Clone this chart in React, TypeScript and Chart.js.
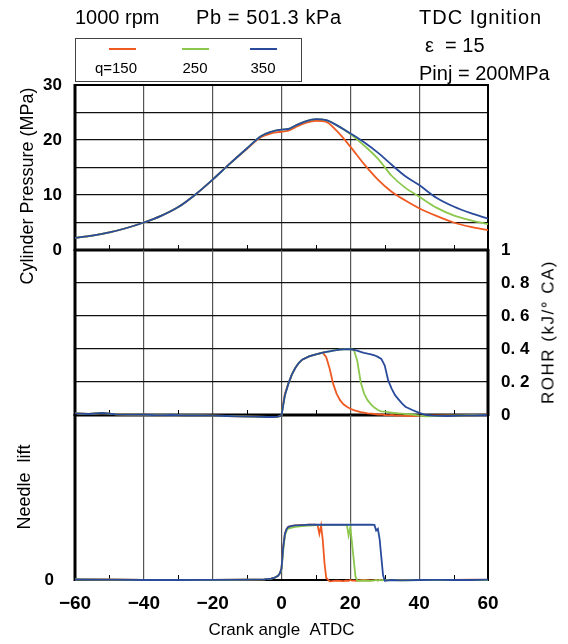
import React, { useEffect, useRef } from 'react';
import { Chart, registerables } from 'chart.js';

Chart.register(...registerables);

const FONT = '"Liberation Sans", Arial, Helvetica, sans-serif';

const SERIES_LABELS = ['q=150', '250', '350'];
const SERIES_COLORS = ['#ef5a23', '#8cc84e', '#2a4b9b'];

// Cylinder pressure (MPa)
const PRESSURE_ANGLES = [-60, -55, -50, -45, -40, -35, -30, -25, -20, -15, -10, -6, -3, 0, 2, 4, 7, 10, 13, 16, 20, 24, 28, 32, 36, 40, 45, 50, 55, 60];
const PRESSURE_150 = [2.2, 2.6, 3.2, 4.0, 5.0, 6.2, 7.8, 10.1, 12.8, 15.7, 18.4, 20.5, 21.2, 21.5, 21.7, 22.3, 23.1, 23.5, 23.3, 21.7, 18.8, 15.6, 12.8, 10.6, 9.0, 7.6, 6.2, 5.0, 4.2, 3.6];
const PRESSURE_250 = [2.2, 2.6, 3.2, 4.0, 5.0, 6.2, 7.8, 10.1, 12.8, 15.7, 18.5, 20.7, 21.5, 21.9, 22.0, 22.6, 23.4, 23.8, 23.6, 22.7, 21.1, 19.0, 16.6, 13.5, 11.3, 9.7, 7.7, 6.3, 5.4, 4.7];
const PRESSURE_350 = [2.2, 2.6, 3.2, 4.0, 5.0, 6.2, 7.8, 10.1, 12.8, 15.7, 18.5, 20.7, 21.5, 21.9, 22.0, 22.6, 23.4, 23.8, 23.6, 22.7, 21.2, 19.6, 17.7, 15.5, 13.4, 11.8, 9.5, 7.9, 6.7, 5.7];

// Rate of heat release (kJ/deg CA)
const ROHR_ANGLES = [-60, -56, -52, -48, -44, -40, -36, -32, -28, -24, -20, -16, -12, -8, -4, -2, -1, 0, 0.5, 1, 2, 3, 4, 5, 6, 8, 10, 12, 13, 14, 15, 16, 17, 18, 19, 20, 21, 22, 23, 24, 25, 26, 27, 28, 29, 30, 31, 32, 33, 34, 35, 36, 38, 40, 42, 44, 48, 52, 56, 60];
const ROHR_150 = [0.010, 0.006, 0.012, 0.004, 0.002, 0.003, -0.002, 0.001, -0.003, -0.002, -0.004, -0.006, -0.008, -0.010, -0.012, -0.012, -0.010, -0.004, 0.07, 0.13, 0.19, 0.245, 0.285, 0.315, 0.335, 0.355, 0.368, 0.378, 0.35, 0.28, 0.19, 0.13, 0.09, 0.065, 0.05, 0.038, 0.03, 0.024, 0.018, 0.014, 0.010, 0.008, 0.006, 0.003, 0.004, 0.0, -0.002, 0.001, -0.003, -0.002, -0.004, -0.005, -0.006, -0.004, -0.006, -0.003, -0.002, -0.004, 0.0, 0.002];
const ROHR_250 = [0.010, 0.006, 0.012, 0.004, 0.002, 0.003, -0.002, 0.001, -0.003, -0.002, -0.004, -0.006, -0.008, -0.010, -0.012, -0.012, -0.010, -0.004, 0.06, 0.12, 0.19, 0.245, 0.285, 0.315, 0.335, 0.355, 0.368, 0.378, 0.382, 0.386, 0.39, 0.393, 0.397, 0.398, 0.40, 0.398, 0.395, 0.33, 0.20, 0.13, 0.09, 0.065, 0.045, 0.03, 0.022, 0.02, 0.018, 0.015, 0.012, 0.010, 0.008, 0.006, 0.003, -0.004, -0.008, -0.006, -0.004, -0.003, -0.001, 0.0];
const ROHR_350 = [0.010, 0.006, 0.012, 0.004, 0.002, 0.003, -0.002, 0.001, -0.003, -0.002, -0.004, -0.006, -0.008, -0.010, -0.012, -0.012, -0.010, -0.004, 0.06, 0.12, 0.19, 0.245, 0.285, 0.315, 0.335, 0.355, 0.368, 0.378, 0.382, 0.386, 0.39, 0.393, 0.397, 0.398, 0.40, 0.398, 0.395, 0.39, 0.383, 0.377, 0.372, 0.368, 0.362, 0.352, 0.34, 0.30, 0.21, 0.16, 0.12, 0.095, 0.07, 0.05, 0.03, 0.013, 0.0, -0.004, -0.006, -0.004, -0.002, 0.0];

// Needle lift (relative)
const NEEDLE_ANGLES = [-60, -50, -40, -30, -20, -10, -5, -3, -2, -1, -0.5, 0, 0.5, 1, 1.5, 2, 3, 4, 6, 8, 10, 10.5, 11, 11.5, 12, 12.5, 13, 14, 16, 18, 19, 19.5, 20, 20.5, 21, 21.5, 22, 24, 26, 27, 27.5, 28, 28.5, 29, 29.5, 30, 32, 35, 40, 45, 50, 55, 60];
const NEEDLE_150 = [0.004, 0.003, 0.001, 0.0, 0.001, 0.002, 0.004, 0.008, 0.014, 0.025, 0.04, 0.07, 0.2, 0.28, 0.31, 0.322, 0.328, 0.331, 0.333, 0.335, 0.335, 0.33, 0.28, 0.33, 0.24, 0.10, 0.012, -0.008, -0.004, -0.007, -0.003, -0.005, 0.0, -0.004, -0.002, -0.005, -0.003, 0.0, -0.002, -0.001, 0.0, -0.002, 0.0, -0.001, 0.0, 0.0, 0.001, 0.0, 0.0, 0.001, 0.0, 0.002, 0.0];
const NEEDLE_250 = [0.003, 0.002, 0.0, 0.0, 0.001, 0.002, 0.004, 0.008, 0.014, 0.025, 0.04, 0.065, 0.18, 0.27, 0.30, 0.312, 0.318, 0.322, 0.326, 0.33, 0.333, 0.334, 0.334, 0.334, 0.334, 0.334, 0.334, 0.334, 0.334, 0.334, 0.334, 0.27, 0.32, 0.22, 0.12, 0.02, -0.005, -0.003, -0.005, -0.002, 0.0, -0.003, 0.0, -0.002, 0.0, -0.001, 0.0, -0.002, 0.0, 0.0, 0.0, 0.001, 0.0];
const NEEDLE_350 = [0.003, 0.002, 0.0, 0.0, 0.001, 0.002, 0.004, 0.008, 0.014, 0.025, 0.04, 0.07, 0.2, 0.28, 0.31, 0.322, 0.328, 0.331, 0.333, 0.335, 0.335, 0.335, 0.335, 0.335, 0.335, 0.335, 0.335, 0.335, 0.335, 0.335, 0.335, 0.335, 0.335, 0.335, 0.335, 0.335, 0.335, 0.335, 0.335, 0.334, 0.30, 0.31, 0.25, 0.14, 0.03, -0.004, 0.0, -0.002, 0.0, 0.001, 0.0, 0.0, 0.002];

const fmtAngle = (v: number) => (v < 0 ? '\u2212' + Math.abs(v) : String(v));

const toPoints = (xs: number[], ys: number[]) => xs.map((x, i) => ({ x, y: ys[i] }));

function makeDatasets(xs: number[], series: number[][], smooth: boolean) {
  return series.map((ys, i) => ({
    label: SERIES_LABELS[i],
    data: toPoints(xs, ys),
    borderColor: SERIES_COLORS[i],
    backgroundColor: SERIES_COLORS[i],
    borderWidth: 1.8,
    pointRadius: 0,
    tension: smooth ? 0.4 : 0,
    cubicInterpolationMode: smooth ? 'monotone' : 'default',
    order: series.length - 1 - i,
    clip: 4,
  }));
}

const framePlugin = {
  id: 'frame',
  beforeDatasetsDraw(chart: any, _args: any, opts: any) {
    const { ctx, chartArea: a, scales } = chart;
    ctx.save();
    ctx.strokeStyle = '#000';
    ctx.lineWidth = 1;
    const xs = scales.x;
    for (const t of xs.ticks) {
      if (Math.round(t.value) % 20 === 0) continue;
      const px = Math.round(xs.getPixelForValue(t.value)) + 0.5;
      ctx.beginPath();
      ctx.moveTo(px, a.bottom);
      ctx.lineTo(px, a.bottom - 5);
      ctx.stroke();
    }
    const side = (w: number, x1: number, y1: number, x2: number, y2: number) => {
      if (!w) return;
      ctx.lineWidth = w;
      ctx.beginPath();
      ctx.moveTo(x1, y1);
      ctx.lineTo(x2, y2);
      ctx.stroke();
    };
    side(opts.top, a.left - 1, a.top, a.right + 1, a.top);
    side(opts.bottom, a.left - 1, a.bottom, a.right + 1, a.bottom);
    side(opts.left, a.left, a.top - 1, a.left, a.bottom + 1);
    side(opts.right, a.right, a.top - 1, a.right, a.bottom + 1);
    ctx.restore();
  },
};

function xScale(showLabels: boolean) {
  return {
    type: 'linear',
    min: -60,
    max: 60,
    ticks: {
      stepSize: 10,
      autoSkip: false,
      maxRotation: 0,
      display: showLabels,
      padding: 12,
      color: '#000',
      font: { family: FONT, size: 19, weight: 'bold' },
      callback: (v: any) => (Math.round(Number(v)) % 20 === 0 ? fmtAngle(Number(v)) : ''),
    },
    grid: {
      drawTicks: false,
      lineWidth: 1.2,
      color: (c: any) => (c.tick && Math.round(c.tick.value) % 20 === 0 ? '#555' : 'rgba(0,0,0,0)'),
    },
    border: { display: false },
    title: showLabels
      ? { display: true, text: 'Crank angle  ATDC', color: '#000', font: { family: FONT, size: 17 }, padding: { top: 0, bottom: 3 } }
      : { display: false },
    afterFit: (s: any) => {
      s.height = showLabels ? 64 : 0;
    },
  };
}

const basePlugins = (frame: any) => ({
  legend: { display: false },
  tooltip: { enabled: false },
  frame,
});

const Text = ({ x, y, size, children, align = 'left', style = {} }: any) => (
  <div
    style={{
      position: 'absolute',
      left: x,
      top: y,
      fontFamily: FONT,
      fontSize: size,
      lineHeight: 1,
      whiteSpace: 'pre',
      color: '#000',
      transform: align === 'center' ? 'translate(-50%,-50%)' : 'translateY(-50%)',
      ...style,
    }}
  >
    {children}
  </div>
);

const VText = ({ x, y, size, children, style = {} }: any) => (
  <div
    style={{
      position: 'absolute',
      left: x,
      top: y,
      fontFamily: FONT,
      fontSize: size,
      lineHeight: 1,
      whiteSpace: 'pre',
      color: '#000',
      transform: 'translate(-50%,-50%) rotate(-90deg)',
      ...style,
    }}
  >
    {children}
  </div>
);

// Panel geometry: pressure 85-250, ROHR 250-415, needle lift 415-580
const PAD = 26;

export default function App() {
  const pRef = useRef<HTMLCanvasElement>(null);
  const rRef = useRef<HTMLCanvasElement>(null);
  const nRef = useRef<HTMLCanvasElement>(null);

  useEffect(() => {
    const tickFont = { family: FONT, size: 17, weight: 'bold' };

    const pChart = new Chart(pRef.current as HTMLCanvasElement, {
      type: 'line',
      data: { datasets: makeDatasets(PRESSURE_ANGLES, [PRESSURE_150, PRESSURE_250, PRESSURE_350], true) as any },
      options: {
        responsive: false,
        animation: false,
        events: [],
        layout: { padding: { top: 85, bottom: PAD, left: 0, right: 80 } },
        scales: {
          x: xScale(false) as any,
          y: {
            type: 'linear',
            min: 0,
            max: 30,
            ticks: {
              stepSize: 5,
              padding: 13,
              color: '#000',
              font: tickFont,
              callback: (v: any) => (Number(v) % 10 === 0 ? String(v) : ''),
            },
            grid: { drawTicks: false, color: '#111', lineWidth: 1.2 },
            border: { display: false },
            afterFit: (s: any) => {
              s.width = 75;
            },
          } as any,
        },
        plugins: basePlugins({ top: 2, bottom: 3, left: 3, right: 2 }) as any,
      },
      plugins: [framePlugin as any],
    });

    const rChart = new Chart(rRef.current as HTMLCanvasElement, {
      type: 'line',
      data: { datasets: makeDatasets(ROHR_ANGLES, [ROHR_150, ROHR_250, ROHR_350], false) as any },
      options: {
        responsive: false,
        animation: false,
        events: [],
        layout: { padding: { top: PAD, bottom: PAD, left: 75, right: 0 } },
        scales: {
          x: xScale(false) as any,
          y: {
            type: 'linear',
            position: 'right',
            min: 0,
            max: 1,
            ticks: {
              stepSize: 0.2,
              padding: 13,
              color: '#000',
              font: tickFont,
              callback: (v: any) => {
                const n = Number(v);
                if (Math.abs(n) < 1e-9) return '0';
                if (Math.abs(n - 1) < 1e-9) return '1';
                return n.toFixed(1).replace('.', '. ');
              },
            },
            grid: { drawTicks: false, color: '#111', lineWidth: 1.2 },
            border: { display: false },
            afterFit: (s: any) => {
              s.width = 80;
            },
          } as any,
        },
        plugins: basePlugins({ top: 0, bottom: 3, left: 3, right: 3 }) as any,
      },
      plugins: [framePlugin as any],
    });

    const nChart = new Chart(nRef.current as HTMLCanvasElement, {
      type: 'line',
      data: { datasets: makeDatasets(NEEDLE_ANGLES, [NEEDLE_150, NEEDLE_250, NEEDLE_350], false) as any },
      options: {
        responsive: false,
        animation: false,
        events: [],
        layout: { padding: { top: PAD, bottom: 0, left: 0, right: 80 } },
        scales: {
          x: xScale(true) as any,
          y: {
            type: 'linear',
            min: 0,
            max: 1,
            ticks: {
              stepSize: 1,
              padding: 13,
              color: '#000',
              font: tickFont,
              callback: (v: any) => (Number(v) === 0 ? '0' : ''),
            },
            grid: { display: false },
            border: { display: false },
            afterFit: (s: any) => {
              s.width = 75;
            },
          } as any,
        },
        plugins: basePlugins({ top: 0, bottom: 2, left: 3, right: 2 }) as any,
      },
      plugins: [framePlugin as any],
    });

    return () => {
      pChart.destroy();
      rChart.destroy();
      nChart.destroy();
    };
  }, []);

  const legendLineX = [109, 182, 250];
  const legendLabelX = [116, 195, 263];

  return (
    <div style={{ position: 'absolute', left: 0, top: 0, width: 568, height: 644, background: '#fff', overflow: 'hidden' }}>
      <canvas ref={pRef} width={568} height={250 + PAD} style={{ position: 'absolute', left: 0, top: 0 }} />
      <canvas ref={rRef} width={568} height={165 + 2 * PAD} style={{ position: 'absolute', left: 0, top: 250 - PAD }} />
      <canvas ref={nRef} width={568} height={644 - (415 - PAD)} style={{ position: 'absolute', left: 0, top: 415 - PAD }} />

      <Text x={75} y={17} size={20}>1000 rpm</Text>
      <Text x={196} y={17} size={20} style={{ letterSpacing: '0.6px' }}>Pb = 501.3 kPa</Text>
      <Text x={419} y={17} size={20} style={{ letterSpacing: '1px' }}>TDC Ignition</Text>
      <Text x={425} y={45} size={20}>{'\u03B5  = 15'}</Text>
      <Text x={419} y={73} size={20}>Pinj = 200MPa</Text>

      <div
        style={{
          position: 'absolute',
          left: 75,
          top: 38,
          width: 227,
          height: 44,
          border: '1px solid #444',
          boxSizing: 'border-box',
        }}
      />
      {SERIES_LABELS.map((lab, i) => (
        <React.Fragment key={lab}>
          <div
            style={{
              position: 'absolute',
              left: legendLineX[i],
              top: 48,
              width: 27,
              height: 2,
              background: SERIES_COLORS[i],
            }}
          />
          <Text x={legendLabelX[i]} y={67} size={15} align="center">
            {lab}
          </Text>
        </React.Fragment>
      ))}

      <VText x={27} y={186} size={18}>Cylinder Pressure (MPa)</VText>
      <VText x={24} y={487} size={18}>Needle  lift</VText>
      <VText x={548} y={332} size={17} style={{ letterSpacing: '1.5px' }}>{'ROHR (kJ/\u00B0 CA)'}</VText>
    </div>
  );
}
